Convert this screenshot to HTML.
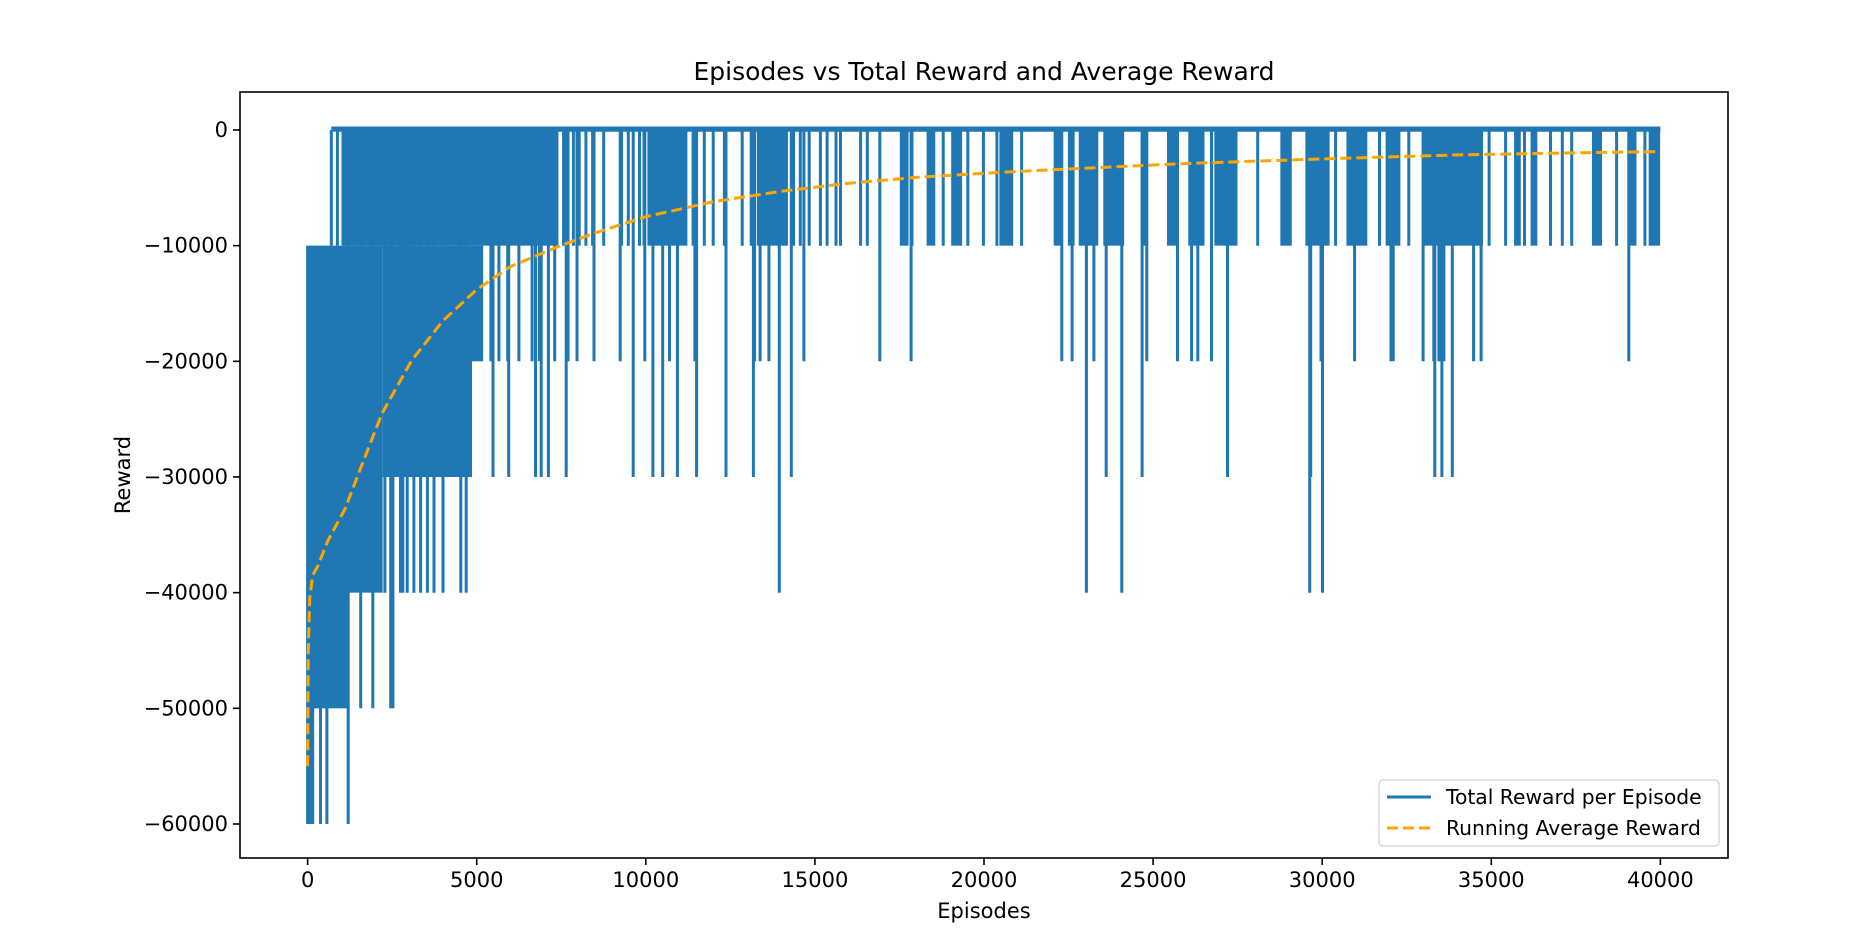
<!DOCTYPE html>
<html><head><meta charset="utf-8">
<style>
html,body{margin:0;padding:0;background:#fff;}
svg{display:block;font-family:"DejaVu Sans","Liberation Sans",sans-serif;}
</style></head>
<body>
<svg id="chart" width="1869" height="931" viewBox="0 0 1869 931" xmlns="http://www.w3.org/2000/svg">
<rect width="1869" height="931" fill="#fff"/>
<text x="984" y="80" text-anchor="middle" font-size="25" fill="#000">Episodes vs Total Reward and Average Reward</text>
<g id="plot"></g>
<g id="axes"></g>
<text x="984" y="918" text-anchor="middle" font-size="21">Episodes</text>
<text x="0" y="0" transform="translate(130,475) rotate(-90)" text-anchor="middle" font-size="21">Reward</text>
<g>
  <rect x="1379" y="780" width="340" height="66" rx="4" fill="#fff" fill-opacity="0.8" stroke="#d0d0d0" stroke-width="1.2"/>
  <line x1="1387" y1="797" x2="1431" y2="797" stroke="#1f77b4" stroke-width="3"/>
  <text x="1446" y="804" font-size="20.3">Total Reward per Episode</text>
  <line x1="1387" y1="828" x2="1431" y2="828" stroke="#ffa500" stroke-width="3" stroke-dasharray="11,5"/>
  <text x="1446" y="835" font-size="20.3">Running Average Reward</text>
</g>
</svg>
<script>
// ---- data ----
const xTicks = [0,5000,10000,15000,20000,25000,30000,35000,40000];
const yTicks = [0,-10000,-20000,-30000,-40000,-50000,-60000];
// dense early blocks of the episode-reward trace
const blockStart = [0,1000,1200,2218,4860];
const blockEnd = [1200,7300,2218,4860,5190];
const blockTop = [-10000,0,-10000,-10000,-10000];
const blockBottom = [-50000,-10000,-40000,-30000,-20000];
// dense later ranges (many episodes dipping to -10000)
const rangeStart = [10077,13313,17540,18332,19059,20485,22090,22510,22830,23557,24670,25440,26070,26840,28793,29532,30747,31906,32980,35703,36192,38007,39124,39684];
const rangeEnd = [11200,14172,17740,18530,19323,20834,22300,22650,23350,24115,24813,25720,26490,27466,29072,30190,31305,32283,34727,35843,36332,38245,39264,39963];
const rangeValue = [-10000,-10000,-10000,-10000,-10000,-10000,-10000,-10000,-10000,-10000,-10000,-10000,-10000,-10000,-10000,-10000,-10000,-10000,-10000,-10000,-10000,-10000,-10000,-10000];
// individual spikes
const spikeEpisode = [0,60,150,380,570,1200,1570,1926,2455,2520,
 2285,2483,2747,2813,2945,3143,3341,3540,3737,4002,4530,4688,
 5482,5944,6737,6905,7118,7645,9627,10210,10500,10935,11503,12370,13180,14302,
 5420,5655,5917,6248,6637,6850,7305,7700,7966,8467,9243,9970,10700,11450,13216,13380,13640,14674,16920,17843,
 22300,22606,23249,24814,25722,26140,26322,26728,29964,30960,32035,32100,32984,33300,33450,33600,34477,34699,39068,
 23612,24675,27201,29660,33331,33539,33847,
 13946,23027,24074,29630,30009,
 7370,7568,7858,8030,8228,8426,8756,9285,9483,9813,9945,11398,11728,11992,12323,12851,13115,14370,14568,14832,15163,15361,15625,15757,16351,16549,17870,18795,19520,19983,20380,21113,28094,30398,31696,32562,34936,35424,35983,36750,37100,37379,38705,39544];
const spikeValue = [-60000,-60000,-60000,-60000,-60000,-60000,-50000,-50000,-50000,-50000,
 -40000,-40000,-40000,-40000,-40000,-40000,-40000,-40000,-40000,-40000,-40000,-40000,
 -30000,-30000,-30000,-30000,-30000,-30000,-30000,-30000,-30000,-30000,-30000,-30000,-30000,-30000,
 -20000,-20000,-20000,-20000,-20000,-20000,-20000,-20000,-20000,-20000,-20000,-20000,-20000,-20000,-20000,-20000,-20000,-20000,-20000,-20000,
 -20000,-20000,-20000,-20000,-20000,-20000,-20000,-20000,-20000,-20000,-20000,-20000,-20000,-20000,-20000,-20000,-20000,-20000,-20000,
 -30000,-30000,-30000,-30000,-30000,-30000,-30000,
 -40000,-40000,-40000,-40000,-40000,
 -10000,-10000,-10000,-10000,-10000,-10000,-10000,-10000,-10000,-10000,-10000,-10000,-10000,-10000,-10000,-10000,-10000,-10000,-10000,-10000,-10000,-10000,-10000,-10000,-10000,-10000,-10000,-10000,-10000,-10000,-10000,-10000,-10000,-10000,-10000,-10000,-10000,-10000,-10000,-10000,-10000,-10000,-10000,-10000];
// running average
const avgEpisode = [0,20,60,150,300,600,1100,1600,2200,3080,4000,5000,6000,7300,8500,10000,12000,14000,16000,18000,20485,23000,26000,30000,34000,37000,40000];
const avgValue = [-55000,-45000,-40500,-38500,-37700,-35500,-32800,-29000,-24500,-19900,-16500,-13800,-11800,-10200,-8900,-7500,-6200,-5300,-4600,-4100,-3660,-3300,-2900,-2500,-2150,-2000,-1870];
const lastEpisode = 40000;

// ---- axes ----
const L=240,R=1728,T=92,B=858;
const xMin=-2000,xMax=42000,yMin=-62940,yMax=3284;
const X=e=>L+(e-xMin)/(xMax-xMin)*(R-L);
const Y=v=>T+(yMax-v)/(yMax-yMin)*(B-T);
const NS="http://www.w3.org/2000/svg";
const plot=document.getElementById('plot');
const axes=document.getElementById('axes');
function mk(tag,attrs,parent){const el=document.createElementNS(NS,tag);for(const k in attrs)el.setAttribute(k,attrs[k]);parent.appendChild(el);return el;}

const clip=mk('clipPath',{id:'clipP'},plot);
mk('rect',{x:L,y:T,width:R-L,height:B-T},clip);
const g=mk('g',{'clip-path':'url(#clipP)'},plot);


const blue='#1f77b4';

for(let i=0;i<blockStart.length;i++){
  const r=mk('rect',{x:X(blockStart[i]),y:Y(blockTop[i]),width:X(blockEnd[i])-X(blockStart[i]),height:Y(blockBottom[i])-Y(blockTop[i]),fill:blue},g);
  
  
}
for(let i=0;i<rangeStart.length;i++){
  const r=mk('rect',{x:X(rangeStart[i])-1,y:Y(0),width:X(rangeEnd[i])-X(rangeStart[i])+2,height:Y(rangeValue[i])-Y(0),fill:blue},g);
  
  
}
// baseline band at zero
const band=mk('rect',{x:X(700),y:Y(300),width:X(lastEpisode)-X(700),height:Y(-150)-Y(300),fill:blue},g);


let d='';
for(let i=0;i<spikeEpisode.length;i++){
  const top = spikeEpisode[i]<1000 ? -10000 : 0;
  d+=`M${X(spikeEpisode[i]).toFixed(1)},${Y(top).toFixed(1)}V${Y(spikeValue[i]).toFixed(1)}`;
}
d+=`M${X(700)},${Y(0)}V${Y(-10000)}M${X(880)},${Y(0)}V${Y(-10000)}`;
const sp=mk('path',{d:d,stroke:blue,'stroke-width':3,fill:'none'},g);



let ad='';
for(let i=0;i<avgEpisode.length;i++) ad+=(i?'L':'M')+X(avgEpisode[i]).toFixed(1)+','+Y(avgValue[i]).toFixed(1);
const avg=mk('path',{d:ad,stroke:'#ffa500','stroke-width':3,fill:'none','stroke-dasharray':'11,5'},g);



// frame
const fr=mk('rect',{x:L,y:T,width:R-L,height:B-T,fill:'none',stroke:'#000','stroke-width':1.6},axes);


xTicks.forEach(t=>{
  const x=X(t);
  const tl=mk('line',{x1:x,y1:B,x2:x,y2:B+7,stroke:'#000','stroke-width':1.6},axes);
  
  
  const tx=mk('text',{x:x,y:B+29,'text-anchor':'middle','font-size':21},axes);
  tx.textContent=String(t);
  
  
});
yTicks.forEach(t=>{
  const y=Y(t);
  const tl=mk('line',{x1:L-7,y1:y,x2:L,y2:y,stroke:'#000','stroke-width':1.6},axes);
  
  
  const tx=mk('text',{x:L-12,y:y+7,'text-anchor':'end','font-size':21},axes);
  tx.textContent=t<0?'\u2212'+String(-t):String(t);
  
  
});
</script>
</body></html>
